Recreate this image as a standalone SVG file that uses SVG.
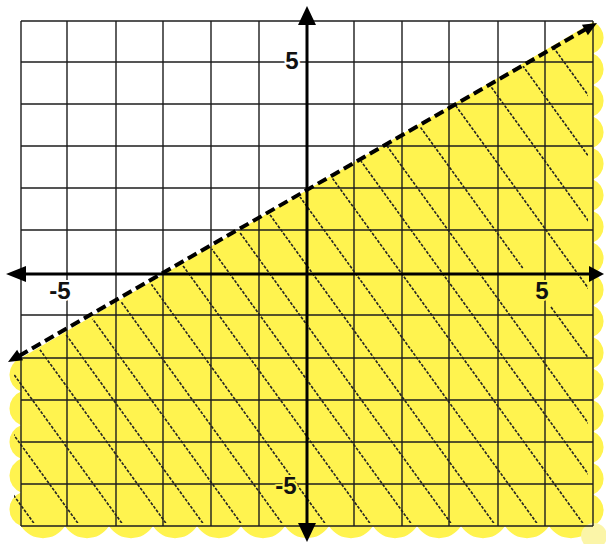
<svg xmlns="http://www.w3.org/2000/svg" width="606" height="544" viewBox="0 0 606 544">
<style>
.grid line{stroke:#1c1c1c;stroke-width:1.4}
.hatch line{stroke:#222;stroke-width:1.6;stroke-dasharray:3 1.5}
.axis{stroke:#000;stroke-width:3}
.lbl{font-family:"Liberation Sans",Arial,sans-serif;font-size:24px;font-weight:bold;fill:#111;text-anchor:middle;paint-order:stroke;stroke-width:4;stroke-linejoin:round}
</style>
<defs>
<clipPath id="hclip"><polygon points="14,365 588,28 588,523 14,523"/></clipPath>
</defs>
<rect width="606" height="544" fill="#fff"/>
<g id="shading">
<path fill="#FFF34F" d="M21,358 L593,22
a17 17 0 0 1 0 31.5 a17 17 0 0 1 0 31.5 a17 17 0 0 1 0 31.5 a17 17 0 0 1 0 31.5
a17 17 0 0 1 0 31.5 a17 17 0 0 1 0 31.5 a17 17 0 0 1 0 31.5 a17 17 0 0 1 0 31.5
a17 17 0 0 1 0 31.5 a17 17 0 0 1 0 31.5 a17 17 0 0 1 0 31.5 a17 17 0 0 1 0 31.5
a17 17 0 0 1 0 31.5 a17 17 0 0 1 0 31.5 a17 17 0 0 1 0 31.5 a17 17 0 0 1 0 31.5
a26 26 0 0 1 -44 0 a26 26 0 0 1 -44 0 a26 26 0 0 1 -44 0 a26 26 0 0 1 -44 0
a26 26 0 0 1 -44 0 a26 26 0 0 1 -44 0 a26 26 0 0 1 -44 0 a26 26 0 0 1 -44 0
a26 26 0 0 1 -44 0 a26 26 0 0 1 -44 0 a26 26 0 0 1 -44 0 a26 26 0 0 1 -44 0
a26 26 0 0 1 -44 0
a18 18 0 0 1 0 -33.6 a18 18 0 0 1 0 -33.6 a18 18 0 0 1 0 -33.6 a18 18 0 0 1 0 -33.6 a18 18 0 0 1 0 -33.6 Z"/>
<circle cx="594" cy="536" r="13" fill="#FBF5A8"/>
</g>
<g id="grid" class="grid">
<line x1="21" y1="21" x2="21" y2="526"/>
<line x1="67" y1="21" x2="67" y2="526"/>
<line x1="116" y1="21" x2="116" y2="526"/>
<line x1="163" y1="21" x2="163" y2="526"/>
<line x1="211" y1="21" x2="211" y2="526"/>
<line x1="259" y1="21" x2="259" y2="526"/>
<line x1="354" y1="21" x2="354" y2="526"/>
<line x1="402" y1="21" x2="402" y2="526"/>
<line x1="449" y1="21" x2="449" y2="526"/>
<line x1="498" y1="21" x2="498" y2="526"/>
<line x1="545" y1="21" x2="545" y2="526"/>
<line x1="593" y1="21" x2="593" y2="526"/>
<line x1="21" y1="21" x2="593" y2="21"/>
<line x1="21" y1="62" x2="593" y2="62"/>
<line x1="21" y1="104" x2="593" y2="104"/>
<line x1="21" y1="146" x2="593" y2="146"/>
<line x1="21" y1="188" x2="593" y2="188"/>
<line x1="21" y1="230" x2="593" y2="230"/>
<line x1="21" y1="315" x2="593" y2="315"/>
<line x1="21" y1="358" x2="593" y2="358"/>
<line x1="21" y1="400" x2="593" y2="400"/>
<line x1="21" y1="442" x2="593" y2="442"/>
<line x1="21" y1="484" x2="593" y2="484"/>
<line x1="21" y1="526" x2="593" y2="526"/>
</g>
<g id="hatching" class="hatch" clip-path="url(#hclip)">
<line x1="-346" y1="0" x2="49" y2="544"/>
<line x1="-302" y1="0" x2="93" y2="544"/>
<line x1="-258" y1="0" x2="137" y2="544"/>
<line x1="-214" y1="0" x2="181" y2="544"/>
<line x1="-177" y1="0" x2="218" y2="544"/>
<line x1="-139" y1="0" x2="256" y2="544"/>
<line x1="-98" y1="0" x2="297" y2="544"/>
<line x1="-55" y1="0" x2="340" y2="544"/>
<line x1="-10" y1="0" x2="385" y2="544"/>
<line x1="31" y1="0" x2="426" y2="544"/>
<line x1="71" y1="0" x2="466" y2="544"/>
<line x1="114" y1="0" x2="509" y2="544"/>
<line x1="157" y1="0" x2="552" y2="544"/>
<line x1="203" y1="0" x2="598" y2="544"/>
<line x1="244" y1="0" x2="639" y2="544"/>
<line x1="281" y1="0" x2="676" y2="544"/>
<line x1="328" y1="0" x2="522.7" y2="268"/>
<line x1="551" y1="307" x2="600" y2="374"/>
<line x1="379" y1="0" x2="774" y2="544"/>
<line x1="428" y1="0" x2="823" y2="544"/>
<line x1="475" y1="0" x2="870" y2="544"/>
<line x1="519" y1="0" x2="914" y2="544"/>
</g>
<g id="axes">
<line class="axis" x1="307" y1="22" x2="307" y2="526"/>
<line class="axis" x1="24" y1="274" x2="592" y2="274"/>
<polygon points="307,6 298,25 316,25" fill="#000"/>
<polygon points="307,542 298,523 316,523" fill="#000"/>
<polygon points="6,274 26,266 26,282" fill="#000"/>
<polygon points="604,274 589,266 589,282" fill="#000"/>
</g>
<g id="boundary">
<line x1="19" y1="356" x2="586" y2="29" stroke="#000" stroke-width="4" stroke-dasharray="10 5"/>
<polygon points="597,23 587.9,35.2 581.9,24.8" fill="#000"/>
<polygon points="8,362 23.1,360.2 17.1,349.8" fill="#000"/>
</g>
<g id="labels">
<text class="lbl" x="292" y="69" stroke="#fff">5</text>
<text class="lbl" x="60" y="299" stroke="#fff">-5</text>
<text class="lbl" x="542" y="299" stroke="#FFF34F">5</text>
<text class="lbl" x="286" y="494" stroke="#FFF34F">-5</text>
</g>
</svg>
